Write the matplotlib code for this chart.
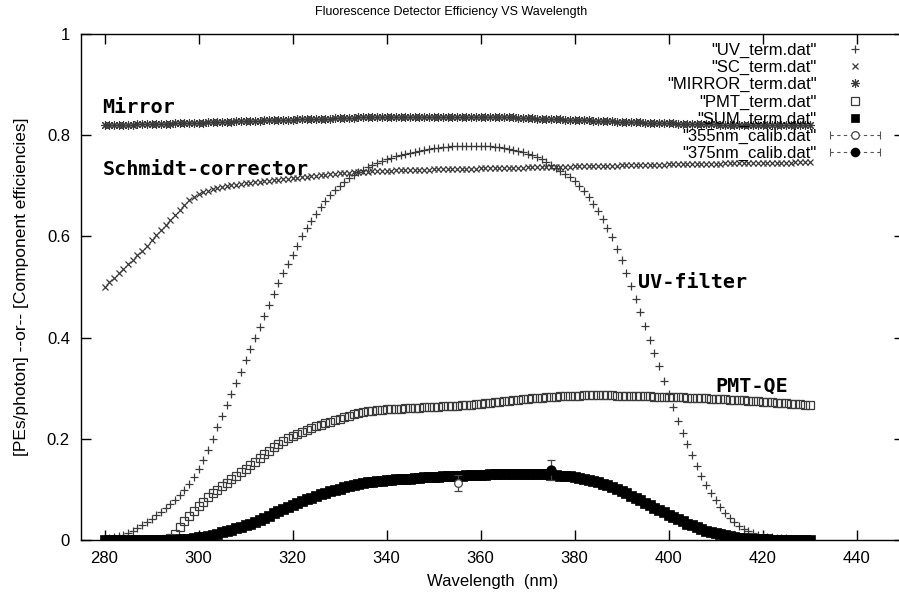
import matplotlib
matplotlib.use("Agg")
import matplotlib.pyplot as plt
from matplotlib.lines import Line2D
from matplotlib.legend_handler import HandlerLine2D, HandlerTuple

# ---------------- data ----------------
wavelength = list(range(280, 431))

uv_term = [
    0.003, 0.004, 0.006, 0.008, 0.010, 0.014, 0.018, 0.023, 0.029, 0.035,
    0.042, 0.049, 0.056, 0.063, 0.071, 0.079, 0.088, 0.098, 0.110, 0.124,
    0.140, 0.158, 0.178, 0.200, 0.223, 0.245, 0.267, 0.289, 0.311, 0.333,
    0.355, 0.377, 0.399, 0.421, 0.443, 0.465, 0.486, 0.507, 0.527, 0.546,
    0.564, 0.582, 0.600, 0.616, 0.631, 0.645, 0.658, 0.670, 0.681, 0.691,
    0.700, 0.708, 0.715, 0.721, 0.727, 0.732, 0.737, 0.741, 0.745, 0.749,
    0.752, 0.755, 0.758, 0.761, 0.763, 0.765, 0.767, 0.769, 0.771, 0.772,
    0.774, 0.775, 0.776, 0.777, 0.778, 0.778, 0.779, 0.779, 0.779, 0.779,
    0.779, 0.778, 0.778, 0.777, 0.776, 0.775, 0.773, 0.771, 0.769, 0.766,
    0.763, 0.760, 0.756, 0.752, 0.747, 0.742, 0.736, 0.730, 0.724, 0.717,
    0.710, 0.700, 0.689, 0.677, 0.664, 0.650, 0.634, 0.617, 0.598, 0.576,
    0.553, 0.528, 0.502, 0.477, 0.450, 0.423, 0.396, 0.370, 0.343, 0.315,
    0.288, 0.262, 0.236, 0.212, 0.189, 0.167, 0.146, 0.127, 0.109, 0.093,
    0.079, 0.066, 0.054, 0.044, 0.035, 0.028, 0.022, 0.017, 0.013, 0.010,
    0.008, 0.006, 0.005, 0.004, 0.003, 0.003, 0.002, 0.002, 0.002, 0.001,
    0.001,
]

sc_term = [
    0.500, 0.509, 0.518, 0.527, 0.536, 0.545, 0.554, 0.563, 0.572, 0.582,
    0.592, 0.602, 0.612, 0.622, 0.632, 0.642, 0.652, 0.662, 0.671, 0.678,
    0.683, 0.687, 0.690, 0.693, 0.695, 0.697, 0.699, 0.701, 0.702, 0.704,
    0.705, 0.706, 0.707, 0.708, 0.709, 0.710, 0.711, 0.712, 0.713, 0.714,
    0.715, 0.716, 0.717, 0.718, 0.719, 0.720, 0.721, 0.722, 0.723, 0.724,
    0.725, 0.726, 0.726, 0.727, 0.727, 0.728, 0.728, 0.729, 0.729, 0.730,
    0.730, 0.730, 0.731, 0.731, 0.731, 0.731, 0.732, 0.732, 0.732, 0.732,
    0.733, 0.733, 0.733, 0.733, 0.733, 0.734, 0.734, 0.734, 0.734, 0.734,
    0.735, 0.735, 0.735, 0.735, 0.735, 0.736, 0.736, 0.736, 0.736, 0.736,
    0.737, 0.737, 0.737, 0.737, 0.737, 0.738, 0.738, 0.738, 0.738, 0.738,
    0.739, 0.739, 0.739, 0.739, 0.739, 0.740, 0.740, 0.740, 0.740, 0.740,
    0.741, 0.741, 0.741, 0.741, 0.741, 0.742, 0.742, 0.742, 0.742, 0.742,
    0.743, 0.743, 0.743, 0.743, 0.743, 0.743, 0.744, 0.744, 0.744, 0.744,
    0.744, 0.744, 0.745, 0.745, 0.745, 0.745, 0.745, 0.745, 0.745, 0.746,
    0.746, 0.746, 0.746, 0.746, 0.746, 0.746, 0.746, 0.747, 0.747, 0.747,
    0.747,
]

mirror_term = [
    0.820, 0.820, 0.820, 0.821, 0.821, 0.821, 0.821, 0.822, 0.822, 0.822,
    0.822, 0.823, 0.823, 0.823, 0.823, 0.824, 0.824, 0.824, 0.824, 0.825,
    0.825, 0.825, 0.826, 0.826, 0.826, 0.827, 0.827, 0.827, 0.828, 0.828,
    0.828, 0.829, 0.829, 0.829, 0.830, 0.830, 0.830, 0.831, 0.831, 0.831,
    0.831, 0.832, 0.832, 0.832, 0.832, 0.833, 0.833, 0.833, 0.833, 0.834,
    0.834, 0.834, 0.834, 0.834, 0.835, 0.835, 0.835, 0.835, 0.835, 0.835,
    0.835, 0.836, 0.836, 0.836, 0.836, 0.836, 0.836, 0.836, 0.836, 0.836,
    0.836, 0.836, 0.836, 0.836, 0.836, 0.836, 0.836, 0.836, 0.836, 0.836,
    0.836, 0.836, 0.836, 0.835, 0.835, 0.835, 0.835, 0.835, 0.834, 0.834,
    0.834, 0.834, 0.833, 0.833, 0.833, 0.832, 0.832, 0.832, 0.831, 0.831,
    0.831, 0.830, 0.830, 0.830, 0.829, 0.829, 0.829, 0.828, 0.828, 0.827,
    0.827, 0.827, 0.826, 0.826, 0.826, 0.825, 0.825, 0.825, 0.824, 0.824,
    0.824, 0.824, 0.823, 0.823, 0.823, 0.823, 0.822, 0.822, 0.822, 0.822,
    0.822, 0.821, 0.821, 0.821, 0.821, 0.821, 0.821, 0.820, 0.820, 0.820,
    0.820, 0.820, 0.820, 0.820, 0.820, 0.820, 0.820, 0.820, 0.820, 0.820,
    0.820,
]

pmt_term = [
    0.000, 0.000, 0.000, 0.000, 0.000, 0.000, 0.000, 0.000, 0.000, 0.000,
    0.000, 0.000, 0.000, 0.001, 0.004, 0.012, 0.025, 0.037, 0.047, 0.057,
    0.067, 0.076, 0.084, 0.092, 0.099, 0.106, 0.113, 0.120, 0.127, 0.134,
    0.141, 0.148, 0.155, 0.162, 0.169, 0.176, 0.183, 0.190, 0.196, 0.201,
    0.206, 0.210, 0.214, 0.218, 0.222, 0.225, 0.228, 0.231, 0.234, 0.237,
    0.240, 0.243, 0.246, 0.249, 0.251, 0.253, 0.254, 0.255, 0.256, 0.257,
    0.258, 0.258, 0.259, 0.259, 0.260, 0.260, 0.261, 0.261, 0.262, 0.262,
    0.263, 0.263, 0.264, 0.264, 0.265, 0.265, 0.266, 0.267, 0.267, 0.268,
    0.269, 0.270, 0.271, 0.272, 0.273, 0.274, 0.275, 0.276, 0.277, 0.278,
    0.279, 0.280, 0.281, 0.281, 0.282, 0.283, 0.283, 0.284, 0.284, 0.285,
    0.285, 0.285, 0.286, 0.286, 0.286, 0.286, 0.286, 0.286, 0.286, 0.285,
    0.285, 0.285, 0.285, 0.284, 0.284, 0.284, 0.284, 0.283, 0.283, 0.283,
    0.283, 0.282, 0.282, 0.282, 0.281, 0.281, 0.281, 0.280, 0.280, 0.279,
    0.279, 0.278, 0.278, 0.277, 0.277, 0.276, 0.276, 0.275, 0.275, 0.274,
    0.273, 0.273, 0.272, 0.271, 0.271, 0.270, 0.269, 0.269, 0.268, 0.267,
    0.267,
]

sum_term = [
    0.0000, 0.0000, 0.0000, 0.0000, 0.0000, 0.0000, 0.0000, 0.0000, 0.0000, 0.0000,
    0.0000, 0.0000, 0.0000, 0.0000, 0.0002, 0.0005, 0.0012, 0.0020, 0.0028, 0.0039,
    0.0053, 0.0068, 0.0085, 0.0105, 0.0127, 0.0150, 0.0174, 0.0201, 0.0229, 0.0260,
    0.0292, 0.0326, 0.0362, 0.0400, 0.0440, 0.0482, 0.0525, 0.0569, 0.0611, 0.0651,
    0.0690, 0.0728, 0.0767, 0.0803, 0.0839, 0.0871, 0.0902, 0.0932, 0.0961, 0.0989,
    0.1016, 0.1043, 0.1066, 0.1090, 0.1108, 0.1126, 0.1138, 0.1151, 0.1161, 0.1174,
    0.1183, 0.1190, 0.1200, 0.1204, 0.1212, 0.1215, 0.1225, 0.1228, 0.1236, 0.1238,
    0.1248, 0.1249, 0.1256, 0.1257, 0.1264, 0.1266, 0.1272, 0.1277, 0.1277, 0.1282,
    0.1287, 0.1290, 0.1295, 0.1298, 0.1301, 0.1306, 0.1307, 0.1309, 0.1310, 0.1310,
    0.1309, 0.1309, 0.1306, 0.1300, 0.1296, 0.1291, 0.1281, 0.1273, 0.1262, 0.1255,
    0.1242, 0.1225, 0.1210, 0.1189, 0.1166, 0.1141, 0.1113, 0.1082, 0.1048, 0.1006,
    0.0966, 0.0922, 0.0877, 0.0830, 0.0783, 0.0736, 0.0688, 0.0641, 0.0594, 0.0546,
    0.0499, 0.0452, 0.0407, 0.0366, 0.0325, 0.0287, 0.0251, 0.0218, 0.0187, 0.0159,
    0.0135, 0.0112, 0.0092, 0.0075, 0.0059, 0.0047, 0.0037, 0.0029, 0.0022, 0.0017,
    0.0013, 0.0010, 0.0008, 0.0007, 0.0005, 0.0005, 0.0003, 0.0003, 0.0003, 0.0002,
    0.0002,
]

calib355_x = [355.3]
calib355_y = [0.112]
calib355_err = [0.016]
calib375_x = [375.1]
calib375_y = [0.138]
calib375_err = [0.020]

series_labels = ['"UV_term.dat"', '"SC_term.dat"', '"MIRROR_term.dat"',
                 '"PMT_term.dat"', '"SUM_term.dat"',
                 '"355nm_calib.dat"', '"375nm_calib.dat"']

x_ticks = [280, 300, 320, 340, 360, 380, 400, 420, 440]
y_ticks = [0, 0.2, 0.4, 0.6, 0.8, 1.0]
y_tick_labels = ["0", "0.2", "0.4", "0.6", "0.8", "1"]

# ---------------- figure ----------------
W, H = 899, 599
fig = plt.figure(figsize=(W / 100, H / 100), dpi=100)
ax = fig.add_axes([81 / W, 59 / H, 822.5 / W, 506 / H])
ax.set_xlim(275, 450)
ax.set_ylim(0, 1)

sans = "Liberation Sans"
mono = "DejaVu Sans Mono"
grey = "#3a3a3a"

h_uv, = ax.plot(wavelength, uv_term, ls="none", marker="+", ms=6, mew=0.9,
                color=grey, zorder=3)
h_sc, = ax.plot(wavelength, sc_term, ls="none", marker="x", ms=5, mew=0.9,
                color=grey, zorder=3)
h_mir, = ax.plot(wavelength, mirror_term, ls="none", marker=(8, 2, 0), ms=6.5,
                 mew=0.8, color=grey, zorder=3)
h_pmt, = ax.plot(wavelength, pmt_term, ls="none", marker="s", ms=5.2, mew=0.9,
                 mfc="none", mec=grey, zorder=3)
h_sum, = ax.plot(wavelength, sum_term, ls="none", marker="s", ms=7.2, mew=0.5,
                 color="black", zorder=4)

ax.errorbar(calib355_x, calib355_y, yerr=calib355_err, fmt="o", ms=5.5,
            mfc="white", mec="#444444", mew=0.9, ecolor="#444444",
            elinewidth=0.9, capsize=3, capthick=0.9, zorder=5)
ax.errorbar(calib375_x, calib375_y, yerr=calib375_err, fmt="o", ms=6.5,
            mfc="black", mec="black", mew=0.9, ecolor="#444444",
            elinewidth=0.9, capsize=3, capthick=0.9, zorder=5)

# component labels
lab_kw = dict(family=mono, fontweight="bold", fontsize=14.5, color="black",
              va="baseline", ha="left", zorder=6)
ax.text(279.4, 0.844, "Mirror", **lab_kw)
ax.text(279.6, 0.721, "Schmidt-corrector", **lab_kw)
ax.text(393.5, 0.499, "UV-filter", **lab_kw)
ax.text(409.9, 0.293, "PMT-QE", **lab_kw)

# axes styling
for s in ax.spines.values():
    s.set_linewidth(1.0)
    s.set_color("black")
ax.set_xticks(x_ticks)
ax.set_yticks(y_ticks)
ax.set_yticklabels(y_tick_labels)
ax.tick_params(direction="in", length=7, width=1, top=True, right=True,
               labelsize=12, pad=8)
for lbl in ax.get_xticklabels() + ax.get_yticklabels():
    lbl.set_family(sans)

ax.set_xlabel("Wavelength  (nm)", family=sans, fontsize=12, labelpad=6)
ax.set_ylabel("[PEs/photon] --or-- [Component efficiencies]", family=sans,
              fontsize=12.5, labelpad=13)
fig.text(451 / W, 1 - 12 / H, "Fluorescence Detector Efficiency VS Wavelength",
         family=sans, fontsize=9, ha="center", va="center")

# legend
cap355 = Line2D([], [], ls=(0, (3, 3)), lw=0.8, color="#555555", marker="|",
                ms=6, mew=0.8)
dot355 = Line2D([], [], ls="none", marker="o", ms=5.5, mfc="white",
                mec="#444444", mew=0.9)
cap375 = Line2D([], [], ls=(0, (3, 3)), lw=0.8, color="#555555", marker="|",
                ms=6, mew=0.8)
dot375 = Line2D([], [], ls="none", marker="o", ms=6, mfc="black",
                mec="black", mew=0.9)
h_sum_leg = Line2D([], [], ls="none", marker="s", ms=6, mew=0.5, color="black")
handles = [h_uv, h_sc, h_mir, h_pmt, h_sum_leg, (cap355, dot355), (cap375, dot375)]
leg = ax.legend(handles, series_labels, loc="upper right",
                bbox_to_anchor=(885 / W, 1 - 43 / H),
                bbox_transform=fig.transFigure, frameon=False, borderpad=0,
                borderaxespad=0, handlelength=3.6, handletextpad=0.5,
                labelspacing=0.12, markerfirst=False, numpoints=1,
                prop={"family": sans, "size": 12},
                handler_map={cap355: HandlerLine2D(numpoints=2),
                             cap375: HandlerLine2D(numpoints=2),
                             tuple: HandlerTuple(ndivide=1, pad=0)})
leg.set_zorder(10)

fig.savefig("out.png", dpi=100)
